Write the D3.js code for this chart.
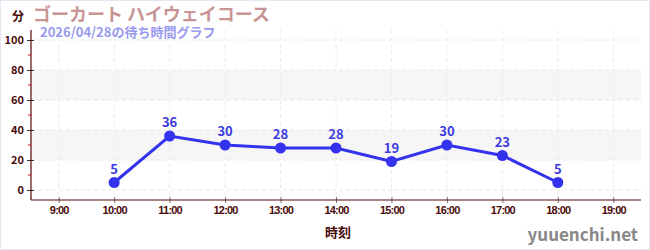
<!DOCTYPE html>
<html><head><meta charset="utf-8">
<script src="https://cdn.jsdelivr.net/npm/d3@7"></script>
<style>
html,body{margin:0;padding:0;background:#fff;}
svg{display:block;font-family:"Noto Sans CJK JP","Noto Sans",sans-serif;}
</style></head>
<body><svg id="c" width="650" height="250"></svg>
<script>
const hours = [10, 11, 12, 13, 14, 15, 16, 17, 18];
const waits = [5, 36, 30, 28, 28, 19, 30, 23, 5];
const xTickHours = [9, 10, 11, 12, 13, 14, 15, 16, 17, 18, 19];
const yTicks = [0, 20, 40, 60, 80, 100];
const yMinorTicks = [10, 30, 50, 70, 90];
const title = "ゴーカート ハイウェイコース";
const subtitle = "2026/04/28の待ち時間グラフ";

const svg = d3.select("#c");
const L = 31, R = 641, T = 30, B = 200;
const x = d3.scaleLinear().domain([8.5, 19.5]).range([L, R]);
const y = d3.scaleLinear().domain([0, 100]).range([190, 40]);

svg.append("rect").attr("x",0.5).attr("y",0.5).attr("width",649).attr("height",249)
  .attr("fill","none").attr("stroke","#e6e6f2");

// bands
[[20,40],[60,80]].forEach(([a,b])=>{
  svg.append("rect").attr("x",L).attr("width",R-L).attr("y",y(b)).attr("height",y(a)-y(b)).attr("fill","#f6f6f6");
});
// grid
svg.append("g").selectAll("line").data(yTicks).join("line")
  .attr("x1",L).attr("x2",R).attr("y1",d=>y(d)).attr("y2",d=>y(d))
  .attr("stroke","#e8e8e8").attr("stroke-dasharray","4,3");
svg.append("g").selectAll("line").data(xTickHours).join("line")
  .attr("x1",d=>x(d)).attr("x2",d=>x(d)).attr("y1",T).attr("y2",B)
  .attr("stroke","#ececec").attr("stroke-dasharray","4,3");

// y axis
const ya = svg.append("g").attr("transform",`translate(${L},0)`)
  .call(d3.axisLeft(y).tickValues(yTicks).tickSize(4).tickPadding(3));
ya.select(".domain").remove();
ya.selectAll(".tick line").attr("stroke","#333").attr("x2",3).attr("x1",-4);
ya.selectAll(".tick text").attr("fill","#4a0a0a").attr("font-size","11px").attr("font-weight","bold")
  .attr("font-family","'Noto Sans CJK JP',sans-serif");
svg.append("g").selectAll("line").data(yMinorTicks).join("line")
  .attr("x1",L-3).attr("x2",L).attr("y1",d=>y(d)).attr("y2",d=>y(d)).attr("stroke","#d42020");
svg.append("line").attr("x1",L).attr("x2",L).attr("y1",T).attr("y2",B).attr("stroke","#5a0a0a").attr("stroke-width",1.2);

// x axis
const xa = svg.append("g").attr("transform",`translate(0,${B})`)
  .call(d3.axisBottom(x).tickValues(xTickHours).tickFormat(d=>d+":00").tickSize(3).tickPadding(3));
xa.select(".domain").remove();
xa.selectAll(".tick line").attr("stroke","#777").attr("y1",-3).attr("y2",3);
xa.selectAll(".tick text").attr("fill","#4a0a0a").attr("font-size","11px").attr("font-weight","bold")
  .attr("letter-spacing","-0.8px");
svg.append("line").attr("x1",L).attr("x2",R).attr("y1",B).attr("y2",B).attr("stroke","#5a0a0a").attr("stroke-width",1.2);

// line
const pts = hours.map((h,i)=>[h,waits[i]]);
svg.append("path").datum(pts)
  .attr("d", d3.line().x(d=>x(d[0])).y(d=>y(d[1])))
  .attr("fill","none").attr("stroke","#3333ee").attr("stroke-width",3);
svg.append("g").selectAll("circle").data(pts).join("circle")
  .attr("cx",d=>x(d[0])).attr("cy",d=>y(d[1])).attr("r",5.5).attr("fill","#3333ee");
svg.append("g").selectAll("text").data(pts).join("text")
  .attr("x",d=>x(d[0])).attr("y",d=>y(d[1])-9).attr("text-anchor","middle")
  .attr("fill","#3b3bdd").attr("font-size","13px").attr("font-weight","bold")
  .text(d=>d[1]);

// titles
svg.append("text").attr("x",12).attr("y",21).attr("fill","#4a0a0a").attr("font-size","12px").attr("font-weight","bold").text("分");
svg.append("text").attr("x",33).attr("y",21).attr("fill","#c89595").attr("font-size","18px").attr("font-weight","bold").text(title);
svg.append("text").attr("x",40).attr("y",37).attr("fill","#9999ee").attr("font-size","13px").attr("font-weight","bold").text(subtitle);
svg.append("text").attr("x",338).attr("y",237).attr("text-anchor","middle").attr("fill","#4a0a0a").attr("font-size","13px").attr("font-weight","bold").text("時刻");
svg.append("text").attr("x",638).attr("y",241).attr("text-anchor","end").attr("fill","#888").attr("font-size","17px").attr("font-weight","bold").text("yuuenchi.net");
</script></body></html>
